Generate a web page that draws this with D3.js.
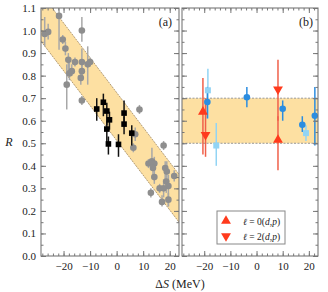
<!DOCTYPE html>
<html>
<head>
<meta charset="UTF-8" />
<script src="https://d3js.org/d3.v7.min.js"></script>
<style>
  body { margin: 0; background: #fff; }
  svg text { font-family: "Liberation Serif", "DejaVu Serif", serif; fill: #222; }
</style>
</head>
<body>
<svg id="chart" width="328" height="292"></svg>
<script>
    // panel (a): grey circles [dS, R, low, high]
    const greyPts = [
        [-27.1, 0.985, 0.93, 1.06], [-25.8, 0.994, 0.96, 1.03], [-21.7, 1.065, 0.915, 1.1],
        [-20.3, 0.96, 0.94, 0.98], [-19.3, 0.92, 0.89, 0.95], [-18.8, 0.76, 0.65, 0.85],
        [-18.2, 0.87, 0.80, 0.90], [-17.8, 0.81, 0.78, 0.86], [-16.9, 0.82, 0.80, 0.85],
        [-15.7, 0.86, 0.84, 0.88], [-13.1, 1.0, 0.95, 1.06], [-13.1, 0.86, 0.80, 0.92],
        [-13.1, 0.82, 0.78, 0.86], [-13.5, 0.79, 0.76, 0.82], [-13.1, 0.69, 0.67, 0.71],
        [-10.9, 0.85, 0.76, 0.93], [-10.0, 0.86, 0.84, 0.88], [8.6, 0.65, 0.63, 0.67],
        [7.0, 0.54, 0.51, 0.57], [6.3, 0.48, 0.46, 0.50], [17.7, 0.49, 0.47, 0.51],
        [12.0, 0.41, 0.39, 0.43], [13.3, 0.42, 0.40, 0.48], [14.2, 0.41, 0.38, 0.44],
        [13.7, 0.39, 0.36, 0.42], [14.2, 0.35, 0.32, 0.38], [12.9, 0.28, 0.26, 0.30],
        [16.2, 0.30, 0.28, 0.32], [18.3, 0.39, 0.34, 0.42], [18.9, 0.375, 0.30, 0.42],
        [18.7, 0.33, 0.28, 0.38], [19.5, 0.31, 0.22, 0.36], [17.7, 0.30, 0.26, 0.34],
        [17.1, 0.24, 0.22, 0.27], [19.5, 0.25, 0.22, 0.28], [21.7, 0.355, 0.33, 0.38]
    ];
    // panel (a): black squares
    const blackPts = [
        [-7.5, 0.652, 0.60, 0.70], [-5.0, 0.682, 0.62, 0.72], [-3.7, 0.643, 0.58, 0.68],
        [-2.7, 0.604, 0.56, 0.64], [-3.7, 0.563, 0.50, 0.60], [-3.1, 0.497, 0.45, 0.53],
        [0.7, 0.495, 0.44, 0.54], [2.8, 0.634, 0.58, 0.69], [2.8, 0.585, 0.54, 0.62],
        [5.7, 0.545, 0.49, 0.58]
    ];
    // panel (a) band: [dS, upper, lower]
    const bandA = [[-28.5, 1.165, 0.953], [23.5, 0.362, 0.150]];

    // panel (b)
    const bluePts = [
        [-18.8, 0.683, 0.61, 0.75], [-3.7, 0.704, 0.66, 0.75], [10.0, 0.653, 0.60, 0.69],
        [17.5, 0.582, 0.55, 0.62], [22.3, 0.622, 0.49, 0.75]
    ];
    const lightPts = [
        [-18.6, 0.735, 0.61, 0.83], [-15.4, 0.49, 0.40, 0.59], [18.9, 0.545, 0.51, 0.58]
    ];
    const l0Pts = [[-20.5, 0.644, 0.45, 0.79], [8.2, 0.519, 0.38, 0.62]];
    const l2Pts = [[-19.5, 0.533, 0.44, 0.70], [8.2, 0.735, 0.60, 0.87]];
    const bandB = [0.5, 0.7];

    const xTicks = [-20, -10, 0, 10, 20];
    const yTicks = [0, 0.1, 0.2, 0.3, 0.4, 0.5, 0.6, 0.7, 0.8, 0.9, 1.0, 1.1];
    const legendLabels = ["0", "2"];

    const svg = d3.select("#chart");
    const y = d3.scaleLinear().domain([0, 1.1]).range([256, 8]);
    const xa = d3.scaleLinear().domain([-28.5, 23.5]).range([41, 179]);
    const xb = d3.scaleLinear().domain([-28.5, 23.5]).range([182, 318]);

    const frameCol = "#777";

    function clipFor(id, x) {
        svg.append("clipPath").attr("id", id).append("rect")
            .attr("x", x.range()[0]).attr("y", y.range()[1])
            .attr("width", x.range()[1] - x.range()[0])
            .attr("height", y.range()[0] - y.range()[1]);
    }
    clipFor("clipA", xa);
    clipFor("clipB", xb);

    function drawAxes(x, showYLabels, showXLabels) {
        const [x0, x1] = x.range();
        const [y0, y1] = y.range();
        const minorX = d3.range(-28, 24, 2);
        const minorY = d3.range(0, 1.1001, 0.05);

        // minor ticks
        const mk = (axis, tx) => svg.append("g").attr("transform", tx).call(axis)
            .call(g => g.select(".domain").remove())
            .call(g => g.selectAll("line").attr("stroke", frameCol))
            .call(g => g.selectAll("text").remove());
        mk(d3.axisBottom(x).tickValues(minorX).tickSize(-2.5), `translate(0,${y0})`);
        mk(d3.axisTop(x).tickValues(minorX).tickSize(-2.5), `translate(0,${y1})`);
        mk(d3.axisLeft(y).tickValues(minorY).tickSize(-2.5), `translate(${x0},0)`);
        mk(d3.axisRight(y).tickValues(minorY).tickSize(-2.5), `translate(${x1},0)`);

        // major ticks
        const ax = d3.axisBottom(x).tickValues(xTicks).tickSize(-5).tickPadding(6)
            .tickFormat(d => d < 0 ? "\u2212" + Math.abs(d) : d);
        const gx = svg.append("g").attr("transform", `translate(0,${y0})`).call(ax);
        gx.select(".domain").remove();
        gx.selectAll("line").attr("stroke", frameCol);
        gx.selectAll("text").attr("font-size", 11).attr("fill", "#222");
        if (!showXLabels) gx.selectAll("text").remove();
        mk(d3.axisTop(x).tickValues(xTicks).tickSize(-5), `translate(0,${y1})`);

        const ay = d3.axisLeft(y).tickValues(yTicks).tickSize(-5).tickPadding(5)
            .tickFormat(d3.format(".1f"));
        const gy = svg.append("g").attr("transform", `translate(${x0},0)`).call(ay);
        gy.select(".domain").remove();
        gy.selectAll("line").attr("stroke", frameCol);
        gy.selectAll("text").attr("font-size", 11).attr("fill", "#222");
        if (!showYLabels) gy.selectAll("text").remove();
        mk(d3.axisRight(y).tickValues(yTicks).tickSize(-5), `translate(${x1},0)`);

        svg.append("rect").attr("x", x0).attr("y", y1)
            .attr("width", x1 - x0).attr("height", y0 - y1)
            .attr("fill", "none").attr("stroke", frameCol).attr("stroke-width", 1.1);
    }

    function errBars(g, x, data, col, w) {
        g.selectAll(null).data(data).enter().append("line")
            .attr("x1", d => x(d[0])).attr("x2", d => x(d[0]))
            .attr("y1", d => y(d[2])).attr("y2", d => y(d[3]))
            .attr("stroke", col).attr("stroke-width", w);
    }

    // ---- panel (a)
    const ga = svg.append("g").attr("clip-path", "url(#clipA)");
    const area = d3.area().x(d => xa(d[0])).y0(d => y(d[2])).y1(d => y(d[1]));
    ga.append("path").datum(bandA).attr("d", area).attr("fill", "#fde0a2");
    [1, 2].forEach(k => {
        ga.append("path").datum(bandA)
            .attr("d", d3.line().x(d => xa(d[0])).y(d => y(d[k])))
            .attr("fill", "none").attr("stroke", "#a08660").attr("stroke-width", 0.8)
            .attr("stroke-dasharray", "2,1");
    });
    errBars(ga, xa, greyPts, "#a8a8a8", 1.5);
    ga.selectAll(null).data(greyPts).enter().append("circle")
        .attr("cx", d => xa(d[0])).attr("cy", d => y(d[1])).attr("r", 3.3)
        .attr("fill", "#8e8e8e");
    errBars(ga, xa, blackPts, "#111", 1.5);
    ga.selectAll(null).data(blackPts).enter().append("rect")
        .attr("x", d => xa(d[0]) - 2.8).attr("y", d => y(d[1]) - 2.8)
        .attr("width", 5.6).attr("height", 5.6).attr("fill", "#000");

    // ---- panel (b)
    const gb = svg.append("g").attr("clip-path", "url(#clipB)");
    gb.append("rect").attr("x", xb.range()[0]).attr("width", xb.range()[1] - xb.range()[0])
        .attr("y", y(bandB[1])).attr("height", y(bandB[0]) - y(bandB[1]))
        .attr("fill", "#fde0a2");
    bandB.forEach(v => {
        gb.append("line").attr("x1", xb.range()[0]).attr("x2", xb.range()[1])
            .attr("y1", y(v)).attr("y2", y(v))
            .attr("stroke", "#999").attr("stroke-width", 1).attr("stroke-dasharray", "2,1.5");
    });
    errBars(gb, xb, lightPts, "#92d4f4", 1.5);
    errBars(gb, xb, bluePts, "#2b8de0", 1.5);
    errBars(gb, xb, l0Pts, "#f0604a", 1.5);
    errBars(gb, xb, l2Pts, "#f0604a", 1.5);
    gb.selectAll(null).data(lightPts).enter().append("rect")
        .attr("x", d => xb(d[0]) - 3).attr("y", d => y(d[1]) - 3)
        .attr("width", 6).attr("height", 6).attr("fill", "#92d4f4");
    gb.selectAll(null).data(bluePts).enter().append("circle")
        .attr("cx", d => xb(d[0])).attr("cy", d => y(d[1])).attr("r", 3.3)
        .attr("fill", "#2b8de0");
    const triUp = d3.symbol().type(d3.symbolTriangle).size(42);
    gb.selectAll(null).data(l0Pts).enter().append("path")
        .attr("d", triUp).attr("transform", d => `translate(${xb(d[0])},${y(d[1]) + 1})`)
        .attr("fill", "#ff3a1c");
    gb.selectAll(null).data(l2Pts).enter().append("path")
        .attr("d", triUp).attr("transform", d => `translate(${xb(d[0])},${y(d[1]) - 1}) rotate(180)`)
        .attr("fill", "#ff3a1c");

    drawAxes(xa, true, true);
    drawAxes(xb, false, true);

    // legend
    const lg = svg.append("g");
    lg.append("rect").attr("x", 217).attr("y", 211).attr("width", 68).attr("height", 33)
        .attr("fill", "#fff").attr("stroke", "#888").attr("stroke-width", 1);
    legendLabels.forEach((l, i) => {
        const cy = 221 + i * 15;
        lg.append("path").attr("d", triUp)
            .attr("transform", `translate(226,${cy})` + (i ? " rotate(180)" : ""))
            .attr("fill", "#ff3a1c");
        const t = lg.append("text").attr("x", 243).attr("y", cy + 3.5).attr("font-size", 9.5);
        t.append("tspan").attr("font-style", "italic").text("\u2113");
        t.append("tspan").text(" = " + l + "(");
        t.append("tspan").attr("font-style", "italic").text("d");
        t.append("tspan").text(",");
        t.append("tspan").attr("font-style", "italic").text("p");
        t.append("tspan").text(")");
    });

    // labels
    svg.append("text").attr("x", 172).attr("y", 26).attr("text-anchor", "end")
        .attr("font-size", 12).text("(a)");
    svg.append("text").attr("x", 313).attr("y", 26).attr("text-anchor", "end")
        .attr("font-size", 12).text("(b)");
    svg.append("text").attr("x", 9).attr("y", 146).attr("text-anchor", "middle")
        .attr("font-size", 12).attr("font-style", "italic").text("R");
    const xl = svg.append("text").attr("x", 180).attr("y", 288).attr("text-anchor", "middle")
        .attr("font-size", 12);
    xl.append("tspan").text("\u0394");
    xl.append("tspan").attr("font-style", "italic").text("S");
    xl.append("tspan").text(" (MeV)");
</script>
</body>
</html>
